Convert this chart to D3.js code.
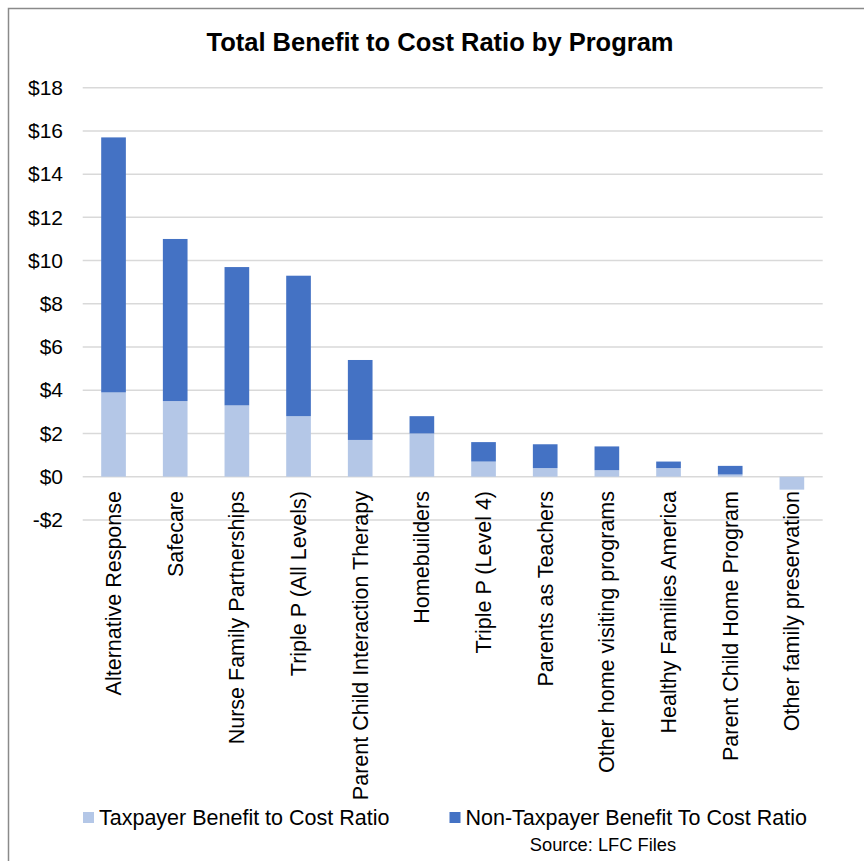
<!DOCTYPE html>
<html><head><meta charset="utf-8">
<script src="https://cdn.jsdelivr.net/npm/d3@7"></script>
<style>body{margin:0;background:#fff;} text{font-family:"Liberation Sans",Arial,sans-serif;fill:#000;}</style>
</head><body>
<svg id="c" width="864" height="861"></svg>
<script>
const categories = ["Alternative Response","Safecare","Nurse Family Partnerships","Triple P (All Levels)","Parent Child Interaction Therapy","Homebuilders","Triple P (Level 4)","Parents as Teachers","Other home visiting programs","Healthy Families America","Parent Child Home Program","Other family preservation"];
const taxpayer = [3.9, 3.5, 3.3, 2.8, 1.7, 2.0, 0.7, 0.4, 0.3, 0.4, 0.1, -0.6];
const nonTaxpayer = [11.8, 7.5, 6.4, 6.5, 3.7, 0.8, 0.9, 1.1, 1.1, 0.3, 0.4, 0];
const seriesNames = ["Taxpayer Benefit to Cost Ratio", "Non-Taxpayer Benefit To Cost Ratio"];
const yTicks = [-2, 0, 2, 4, 6, 8, 10, 12, 14, 16, 18];
const colors = ["#B4C7E7", "#4472C4"];

const svg = d3.select("#c");
svg.append("rect").attr("x",8.5).attr("y",8.5).attr("width",900).attr("height",900)
  .attr("fill","none").attr("stroke","#8a8a8a").attr("stroke-width",1.5);

const x = d3.scaleBand().domain(categories).range([82.7, 822.7]).paddingInner(0.6).paddingOuter(0.3);
const y = d3.scaleLinear().domain([-2, 18]).range([519.9, 87.7]);

// gridlines
svg.append("g").selectAll("line").data(yTicks).join("line")
  .attr("x1",82.7).attr("x2",822.7).attr("y1",d=>y(d)).attr("y2",d=>y(d))
  .attr("stroke","#d9d9d9").attr("stroke-width",1.5);

// y axis labels
const yAxis = d3.axisLeft(y).tickValues(yTicks).tickSize(0).tickPadding(0)
  .tickFormat(d => (d<0?"-":"") + "$" + Math.abs(d));
const ya = svg.append("g").attr("transform","translate(63,0)").call(yAxis);
ya.select(".domain").remove();
ya.selectAll("text").attr("font-size",21).attr("font-family","Liberation Sans, Arial, sans-serif").attr("fill","#000");

// bars
const rows = categories.map((c,i)=>({c, t:taxpayer[i], n:nonTaxpayer[i]}));
const g = svg.append("g");
g.selectAll("rect.t").data(rows).join("rect").attr("class","t")
  .attr("x",d=>x(d.c)).attr("width",x.bandwidth())
  .attr("y",d=>y(Math.max(0,d.t))).attr("height",d=>Math.abs(y(0)-y(d.t)))
  .attr("fill",colors[0]);
g.selectAll("rect.n").data(rows.filter(d=>d.n>0)).join("rect").attr("class","n")
  .attr("x",d=>x(d.c)).attr("width",x.bandwidth())
  .attr("y",d=>y(Math.max(0,d.t)+d.n)).attr("height",d=>y(Math.max(0,d.t))-y(Math.max(0,d.t)+d.n))
  .attr("fill",colors[1]);

// category labels
const xAxis = d3.axisBottom(x).tickSize(0).tickPadding(0);
const xa = svg.append("g").attr("transform","translate(0,491)").call(xAxis);
xa.select(".domain").remove();
xa.selectAll("text").attr("font-size",21.5).attr("font-family","Liberation Sans, Arial, sans-serif").attr("fill","#000")
  .attr("transform","rotate(-90)").attr("text-anchor","end").attr("x",0).attr("y",0).attr("dy","0.35em");

// title
svg.append("text").attr("x",440).attr("y",51).attr("text-anchor","middle")
  .attr("font-size",25.5).attr("font-weight","bold").text("Total Benefit to Cost Ratio by Program");

// legend
const legX = [83, 449.5];
seriesNames.forEach((s,i)=>{
  svg.append("rect").attr("x",legX[i]).attr("y",812).attr("width",11).attr("height",11).attr("fill",colors[i]);
  svg.append("text").attr("x",legX[i]+16).attr("y",824.5).attr("font-size",21.5).text(s);
});
svg.append("text").attr("x",603).attr("y",851).attr("text-anchor","middle").attr("font-size",18.3).text("Source: LFC Files");
</script>
</body></html>
